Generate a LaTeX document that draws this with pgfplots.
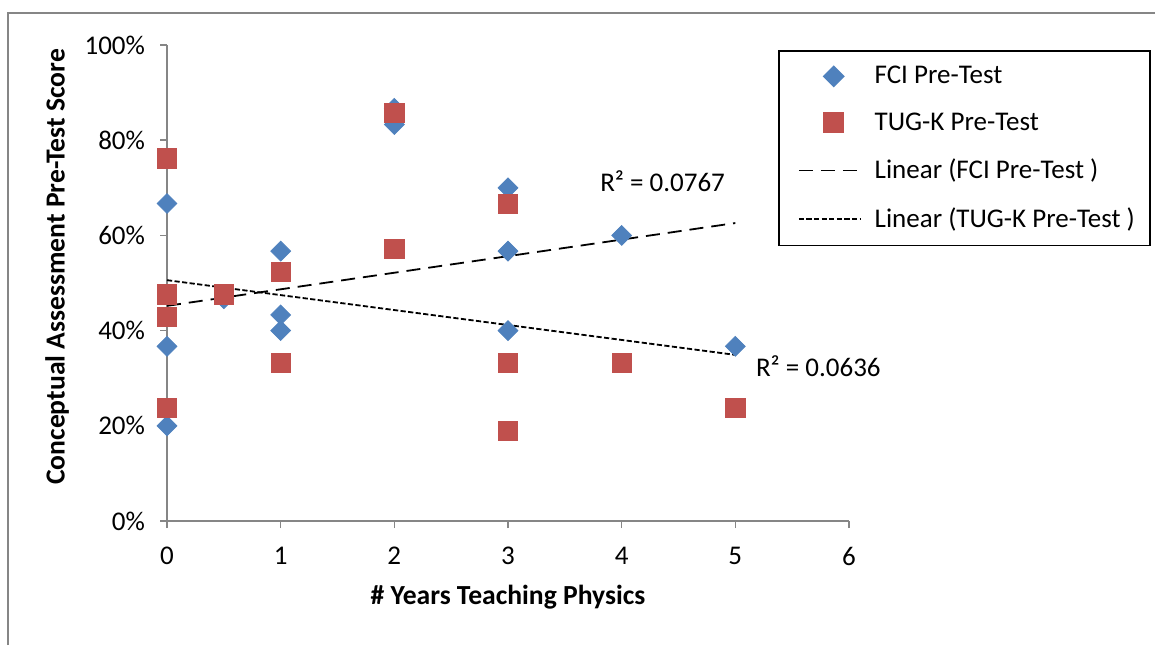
\documentclass[border=0pt]{standalone}
\usepackage{pgfplots}
\pgfplotsset{compat=1.18}
\usepackage{fontspec}
\setmainfont{Carlito}
\definecolor{fciblue}{HTML}{4F81BD}
\definecolor{tugred}{HTML}{C0504D}
\definecolor{axgray}{HTML}{868686}
\pgfplotsset{
    legmark/.style={legend image code/.code={\path (-4pt,0pt); \draw[##1, mark repeat=2, mark phase=2] plot coordinates {(0pt,0pt) (17.5pt,0pt) (35pt,0pt)};}},
    legline/.style={legend image code/.code={\path (-4pt,0pt); \draw[##1] (0pt,0pt) -- (30.5pt,0pt);}},
}
\begin{document}
\begin{tikzpicture}
\useasboundingbox (0,0) rectangle (577.5pt,-322.5pt);
\draw[axgray, line width=0.6pt] (4pt,-322.5pt) -- (4pt,-6.5pt) -- (577.5pt,-6.5pt);
\begin{axis}[
    at={(83.5pt,-260.5pt)}, anchor=south west,
    scale only axis, width=341pt, height=238pt,
    xmin=0, xmax=6, ymin=0, ymax=100,
    xtick={0,1,...,6}, ytick={0,20,...,100},
    yticklabel={\pgfmathprintnumber{\tick}\%},
    axis x line*=bottom, axis y line*=left,
    axis line style={axgray, line width=0.8pt},
    tick style={axgray, line width=0.8pt},
    tick align=outside, major tick length=3.5pt,
    /pgf/number format/assume math mode=true,
    ticklabel style={font=\fontsize{13.5}{15.5}\selectfont, black},
    xticklabel style={yshift=-6pt},
    yticklabel style={xshift=-4pt},
    label style={font=\fontsize{13.8}{16}\selectfont\bfseries},
    xlabel={\# Years Teaching Physics},
    ylabel={Conceptual Assessment Pre-Test Score},
    xlabel style={at={(axis description cs:0.5,-0.1597)}, anchor=center},
    ylabel style={at={(axis description cs:-0.1613,0.534)}, anchor=center},
    legend style={at={(axis description cs:0.896,0.989)}, anchor=north west,
        draw=black, line width=0.8pt, fill=white,
        font=\fontsize{13.5}{15.5}\selectfont,
        inner xsep=5.5pt, inner ysep=5.5pt, row sep=9pt, column sep=5pt},
    legend cell align=left,
    clip=false,
]
\addplot[only marks, mark=square*, mark size=3.5pt,
    mark options={rotate=45, fill=fciblue, draw=fciblue}, legmark]
coordinates {
(0,66.7) (0,36.7) (0,20.0)
(0.5,46.7)
(1,56.7) (1,43.3) (1,40.0)
(2,86.7) (2,83.3)
(3,70.0) (3,56.7) (3,40.0)
(4,60.0)
(5,36.7)
};
\addplot[only marks, mark=square*, mark size=4.8pt,
    mark options={fill=tugred, draw=tugred}, legmark]
coordinates {
(0,76.2) (0,47.6) (0,42.9) (0,23.8)
(0.5,47.6)
(1,52.4) (1,33.3)
(2,85.7) (2,57.1)
(3,66.7) (3,33.3) (3,19.0)
(4,33.3)
(5,23.8)
};
\addplot[black, line width=0.9pt, dash pattern=on 7pt off 4pt, legline]
coordinates {(0,45.2) (5,62.6)};
\addplot[black, line width=0.9pt, dash pattern=on 2.6pt off 1.2pt, legline]
coordinates {(0,50.6) (5,34.9)};
\legend{FCI Pre-Test, TUG-K Pre-Test, Linear (FCI Pre-Test ), Linear (TUG-K Pre-Test )}
\node[font=\fontsize{13.5}{15.5}\selectfont] at (axis cs:4.36,71.43) {R² = 0.0767};
\node[font=\fontsize{13.5}{15.5}\selectfont] at (axis cs:5.73,32.56) {R² = 0.0636};
\end{axis}
\end{tikzpicture}
\end{document}
